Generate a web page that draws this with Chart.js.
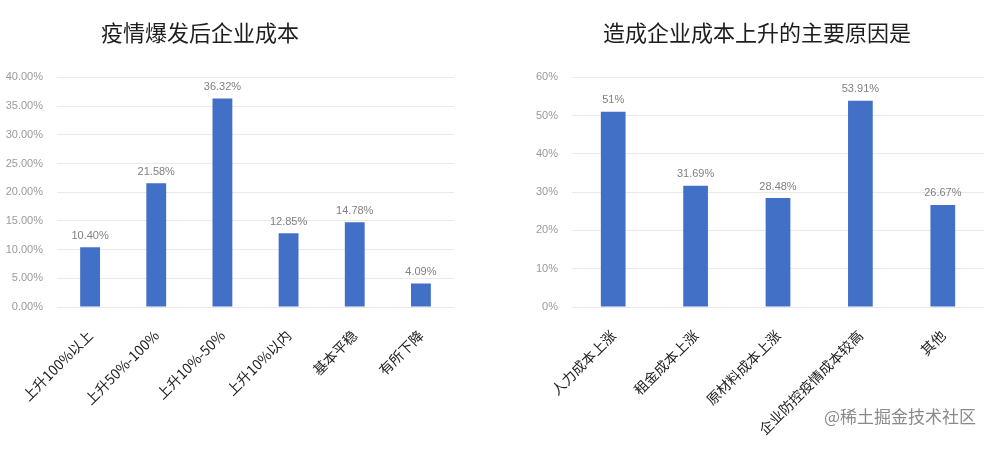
<!DOCTYPE html>
<html>
<head>
<meta charset="utf-8">
<script src="https://cdn.jsdelivr.net/npm/chart.js@4"></script>
<style>
  html, body { margin: 0; padding: 0; background: #fff; }
  body { width: 1000px; height: 450px; position: relative; overflow: hidden; }
  .box { position: absolute; top: 0; height: 450px; }
  #left-box { left: -54px; width: 544px; }
  #right-box { left: 530px; width: 470px; }
  #mark { position: absolute; left: 824px; top: 403px; font: 17px "Noto Sans CJK SC", sans-serif; color: #8a8a8a; white-space: nowrap; }
</style>
</head>
<body>
<div class="box" id="left-box"><canvas id="costChart"></canvas></div>
<div class="box" id="right-box"><canvas id="reasonChart"></canvas></div>
<div id="mark">@稀土掘金技术社区</div>
<script>
(function(){

    // left chart data
    const costLabels = ['上升100%以上', '上升50%-100%', '上升10%-50%', '上升10%以内', '基本平稳', '有所下降'];
    const costValues = [10.40, 21.58, 36.32, 12.85, 14.78, 4.09];

    // right chart data
    const reasonLabels = ['人力成本上涨', '租金成本上涨', '原材料成本上涨', '企业防控疫情成本较高', '其他'];
    const reasonValues = [51, 31.69, 28.48, 53.91, 26.67];

    const BAR_COLOR = '#4170c6';
    const CJK = '"Noto Sans CJK SC", sans-serif';

    function pct(v) {
        return Number.isInteger(v) ? v + '%' : v.toFixed(2) + '%';
    }

    // draws the value above each bar
    const valueLabels = {
        id: 'valueLabels',
        afterDatasetsDraw(chart) {
            const ctx = chart.ctx;
            const meta = chart.getDatasetMeta(0);
            const data = chart.data.datasets[0].data;
            ctx.save();
            ctx.font = '11px "Liberation Sans", sans-serif';
            ctx.fillStyle = '#808080';
            ctx.textAlign = 'center';
            ctx.textBaseline = 'bottom';
            meta.data.forEach((bar, i) => {
                ctx.fillText(pct(data[i]), bar.x, bar.y - 6);
            });
            ctx.restore();
        }
    };

    function makeChart(id, title, labels, values, yMax, yStep, yFmt, yWidth, padRight) {
        return new Chart(document.getElementById(id), {
            type: 'bar',
            data: {
                labels: labels,
                datasets: [{
                    data: values,
                    backgroundColor: BAR_COLOR,
                    categoryPercentage: 1,
                    barPercentage: 0.3
                }]
            },
            options: {
                responsive: true,
                maintainAspectRatio: false,
                animation: false,
                layout: { padding: { left: 0, right: padRight, top: 0, bottom: 0 } },
                plugins: {
                    legend: { display: false },
                    tooltip: { enabled: false },
                    title: {
                        display: true,
                        text: title,
                        color: '#1e1e1e',
                        font: { family: CJK, size: 22, weight: 'normal' },
                        padding: { top: 19, bottom: 32 }
                    }
                },
                scales: {
                    x: {
                        grid: { display: false },
                        border: { display: false },
                        ticks: {
                            color: '#222',
                            font: { family: CJK, size: 14 },
                            minRotation: 45,
                            maxRotation: 45,
                            padding: 12,
                            autoSkip: false
                        },
                        afterFit(scale) { scale.height = 143; }
                    },
                    y: {
                        min: 0,
                        max: yMax,
                        grid: { color: '#e9e9e9', drawTicks: false },
                        border: { display: false },
                        ticks: {
                            stepSize: yStep,
                            color: '#9a9a9a',
                            font: { family: '"Liberation Sans", sans-serif', size: 11 },
                            padding: 14,
                            callback: yFmt
                        },
                        afterFit(scale) { scale.width = yWidth; }
                    }
                }
            },
            plugins: [valueLabels]
        });
    }

    makeChart('costChart', '疫情爆发后企业成本', costLabels, costValues, 40, 5,
        v => v.toFixed(2) + '%', 111, 36);

    makeChart('reasonChart', '造成企业成本上升的主要原因是', reasonLabels, reasonValues, 60, 10,
        v => v + '%', 42, 16);

})();
</script>
</body>
</html>
